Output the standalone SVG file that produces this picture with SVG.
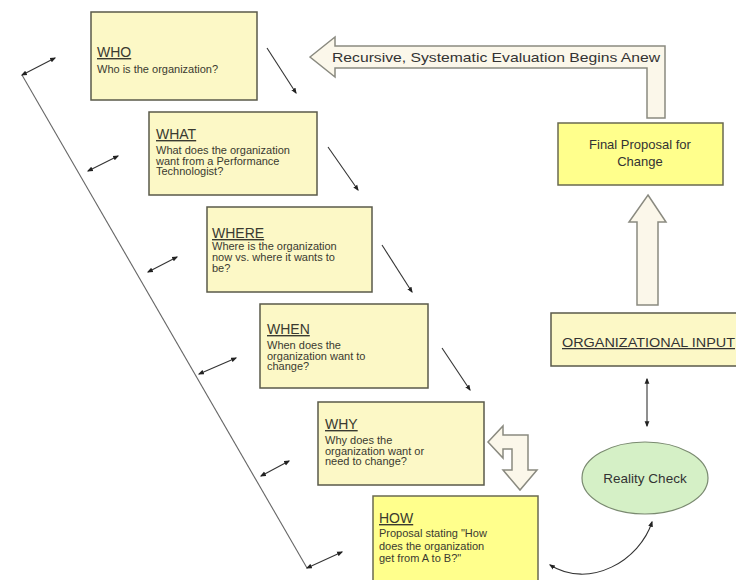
<svg xmlns="http://www.w3.org/2000/svg" width="736" height="580" viewBox="0 0 736 580">
<defs>
<marker id="ah" viewBox="0 0 10 10" refX="8" refY="5" markerWidth="6" markerHeight="6" orient="auto-start-reverse" markerUnits="userSpaceOnUse">
<path d="M0,1 L10,5 L0,9 Z" fill="#222"/>
</marker>
</defs>
<style>
.q{fill:#fcf8c6;stroke:#5a5a4a;stroke-width:1.5}
.y{fill:#ffff8c;stroke:#6a6a50;stroke-width:1.5}
.h{font-family:"Liberation Sans",Arial,sans-serif;font-size:14px;fill:#3a3a30;text-decoration:underline}
.b{font-family:"Liberation Sans",Arial,sans-serif;font-size:11px;fill:#3a3a30}
.c{stroke:#333;stroke-width:1.1;fill:none}
.blk{fill:#fbf7ea;stroke:#8a8a80;stroke-width:1.5}
.t{font-family:"Liberation Sans",Arial,sans-serif;fill:#333}
</style>
<rect width="736" height="580" fill="#ffffff"/>
<g id="connectors">
<line x1="22" y1="75" x2="307" y2="568" stroke="#666" stroke-width="1.1"/>
<line class="c" x1="22" y1="75" x2="55" y2="58" marker-start="url(#ah)" marker-end="url(#ah)"/>
<line class="c" x1="88" y1="171" x2="118" y2="156" marker-start="url(#ah)" marker-end="url(#ah)"/>
<line class="c" x1="148" y1="272" x2="177" y2="257" marker-start="url(#ah)" marker-end="url(#ah)"/>
<line class="c" x1="199" y1="374" x2="236" y2="358" marker-start="url(#ah)" marker-end="url(#ah)"/>
<line class="c" x1="261" y1="476" x2="289" y2="461" marker-start="url(#ah)" marker-end="url(#ah)"/>
<line class="c" x1="307" y1="568" x2="342" y2="552" marker-start="url(#ah)" marker-end="url(#ah)"/>
<line class="c" x1="267" y1="48" x2="296" y2="93" marker-end="url(#ah)"/>
<line class="c" x1="328" y1="147" x2="358" y2="190" marker-end="url(#ah)"/>
<line class="c" x1="382" y1="245" x2="412" y2="292" marker-end="url(#ah)"/>
<line class="c" x1="442" y1="348" x2="470" y2="390" marker-end="url(#ah)"/>
<line class="c" x1="647" y1="379" x2="647" y2="426" marker-start="url(#ah)" marker-end="url(#ah)"/>
<path class="c" d="M652,522 C640,560 590,590 550,565" marker-start="url(#ah)" marker-end="url(#ah)"/>
<polygon class="blk" points="310,57 335,37 335,46 665,46 665,118 647,118 647,68 335,68 335,77"/>
<polygon class="blk" points="648,195 666,222 658,222 658,305 637,305 637,222 629,222"/>
<polygon class="blk" points="488,442 503,426 503,435 528,435 528,470 537,470 520,490 503,470 512,470 512,449 503,449 503,458"/>
<text class="t" x="332" y="62" font-size="13" textLength="328" lengthAdjust="spacingAndGlyphs">Recursive, Systematic Evaluation Begins Anew</text>
</g>
<g id="who">
<rect class="q" x="91" y="12" width="166" height="88"/>
<text class="h" x="97" y="57">WHO</text>
<text class="b" x="97" y="73">Who is the organization?</text>
</g>
<g id="what">
<rect class="q" x="149" y="112" width="168" height="83"/>
<text class="h" x="156" y="139">WHAT</text>
<text class="b" x="156" y="154">What does the organization</text>
<text class="b" x="156" y="164.5">want from a Performance</text>
<text class="b" x="156" y="175">Technologist?</text>
</g>
<g id="where">
<rect class="q" x="207" y="207" width="165" height="85"/>
<text class="h" x="212" y="238">WHERE</text>
<text class="b" x="212" y="250">Where is the organization</text>
<text class="b" x="212" y="261">now vs. where it wants to</text>
<text class="b" x="212" y="272">be?</text>
</g>
<g id="when">
<rect class="q" x="260" y="304" width="168" height="84"/>
<text class="h" x="267" y="334">WHEN</text>
<text class="b" x="267" y="349">When does the</text>
<text class="b" x="267" y="359.5">organization want to</text>
<text class="b" x="267" y="370">change?</text>
</g>
<g id="why">
<rect class="q" x="318" y="402" width="166" height="83"/>
<text class="h" x="325" y="429">WHY</text>
<text class="b" x="325" y="444">Why does the</text>
<text class="b" x="325" y="454.5">organization want or</text>
<text class="b" x="325" y="465">need to change?</text>
</g>
<g id="how">
<rect class="y" x="373" y="496" width="165" height="95"/>
<text class="h" x="379" y="523">HOW</text>
<text class="b" x="379" y="537">Proposal stating "How</text>
<text class="b" x="379" y="549.5">does the organization</text>
<text class="b" x="379" y="562">get from A to B?"</text>
</g>
<g id="final">
<rect class="y" x="558" y="123" width="165" height="62"/>
<text class="t" x="640" y="149" font-size="13" text-anchor="middle">Final Proposal for</text>
<text class="t" x="640" y="166" font-size="13" text-anchor="middle">Change</text>
</g>
<g id="input">
<rect class="q" x="551" y="313" width="200" height="53"/>
<text class="t" x="562" y="347" font-size="12.5" textLength="173" lengthAdjust="spacingAndGlyphs" text-decoration="underline">ORGANIZATIONAL INPUT</text>
</g>
<g id="reality">
<ellipse cx="645" cy="478" rx="63" ry="36" fill="#d5f0c6" stroke="#7a8a70" stroke-width="1.2"/>
<text class="t" x="645" y="483" font-size="13.5" text-anchor="middle" fill="#2c3c2c">Reality Check</text>
</g>
</svg>
